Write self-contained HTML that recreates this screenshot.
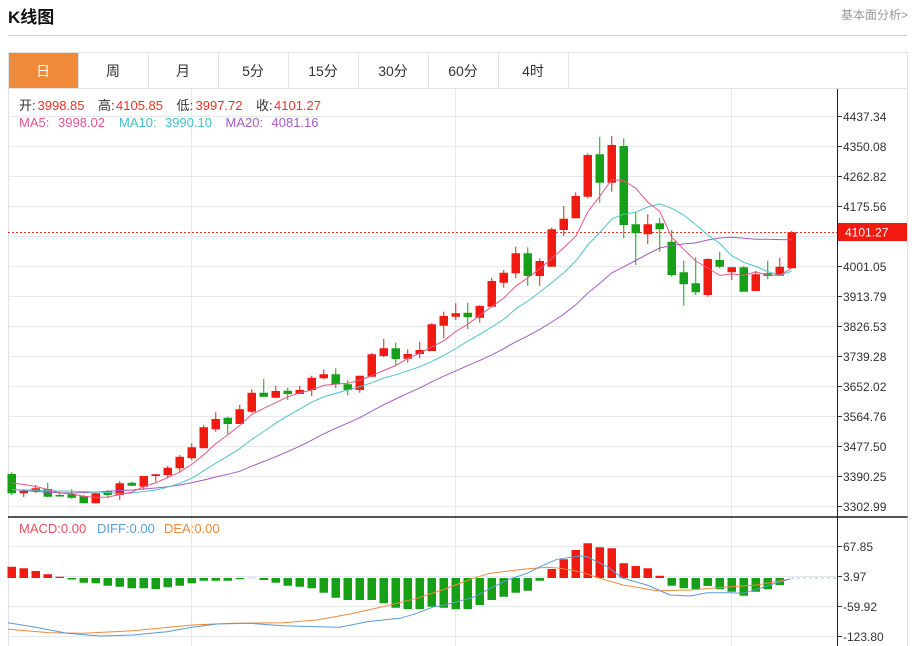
<!DOCTYPE html>
<html><head><meta charset="utf-8"><style>
html,body{margin:0;padding:0;background:#fff;width:912px;height:646px;overflow:hidden}
svg{display:block;font-family:"Liberation Sans","Noto Sans CJK SC",sans-serif}
</style></head><body>
<svg width="912" height="646" viewBox="0 0 912 646" xmlns="http://www.w3.org/2000/svg">
<rect width="912" height="646" fill="#fff"/>
<!-- header -->
<text x="8" y="23" font-size="17" font-weight="bold" fill="#111">K线图</text>
<text x="841" y="19" font-size="12" fill="#999">基本面分析&gt;</text>
<line x1="8" y1="35.5" x2="907" y2="35.5" stroke="#cfcfcf" stroke-width="1"/>
<!-- tabs -->
<rect x="8" y="52" width="70" height="36" fill="#f08a3b"/>
<g stroke="#e2e2e2" stroke-width="1" fill="none">
<line x1="8" y1="52.5" x2="907.5" y2="52.5"/>
<line x1="8" y1="88.5" x2="907.5" y2="88.5"/>
<line x1="8.5" y1="52" x2="8.5" y2="646"/>
<line x1="907.5" y1="52" x2="907.5" y2="646"/>
<line x1="78.5" y1="52" x2="78.5" y2="88"/>
<line x1="148.5" y1="52" x2="148.5" y2="88"/>
<line x1="218.5" y1="52" x2="218.5" y2="88"/>
<line x1="288.5" y1="52" x2="288.5" y2="88"/>
<line x1="358.5" y1="52" x2="358.5" y2="88"/>
<line x1="428.5" y1="52" x2="428.5" y2="88"/>
<line x1="498.5" y1="52" x2="498.5" y2="88"/>
<line x1="568.5" y1="52" x2="568.5" y2="88"/>
</g>
<g font-size="14" fill="#333" text-anchor="middle">
<text x="43" y="76" fill="#fff">日</text>
<text x="113" y="76">周</text>
<text x="183" y="76">月</text>
<text x="253" y="76">5分</text>
<text x="323" y="76">15分</text>
<text x="393" y="76">30分</text>
<text x="463" y="76">60分</text>
<text x="533" y="76">4时</text>
</g>
<!-- grid -->
<g stroke="#e6e8ec" stroke-width="1">
<line x1="8" y1="116.5" x2="838" y2="116.5"/>
<line x1="8" y1="146.5" x2="838" y2="146.5"/>
<line x1="8" y1="176.5" x2="838" y2="176.5"/>
<line x1="8" y1="206.5" x2="838" y2="206.5"/>
<line x1="8" y1="236.5" x2="838" y2="236.5"/>
<line x1="8" y1="266.5" x2="838" y2="266.5"/>
<line x1="8" y1="296.5" x2="838" y2="296.5"/>
<line x1="8" y1="326.5" x2="838" y2="326.5"/>
<line x1="8" y1="356.5" x2="838" y2="356.5"/>
<line x1="8" y1="386.5" x2="838" y2="386.5"/>
<line x1="8" y1="416.5" x2="838" y2="416.5"/>
<line x1="8" y1="446.5" x2="838" y2="446.5"/>
<line x1="8" y1="476.5" x2="838" y2="476.5"/>
<line x1="8" y1="506.5" x2="838" y2="506.5"/>
<line x1="8" y1="546.5" x2="838" y2="546.5"/>
<line x1="8" y1="576.5" x2="838" y2="576.5"/>
<line x1="8" y1="606.5" x2="838" y2="606.5"/>
<line x1="8" y1="636.5" x2="838" y2="636.5"/>
<line x1="191.5" y1="89" x2="191.5" y2="646"/>
<line x1="455.5" y1="89" x2="455.5" y2="646"/>
<line x1="731.5" y1="89" x2="731.5" y2="646"/>
</g>
<!-- info text -->
<g font-size="13">
<text x="19" y="110" fill="#333">开:</text><text x="37.5" y="110" fill="#e8332a">3998.85</text>
<text x="98" y="110" fill="#333">高:</text><text x="116" y="110" fill="#e8332a">4105.85</text>
<text x="176.5" y="110" fill="#333">低:</text><text x="195.5" y="110" fill="#e8332a">3997.72</text>
<text x="256" y="110" fill="#333">收:</text><text x="274" y="110" fill="#e8332a">4101.27</text>
<text x="19" y="127" fill="#e2578a">MA5:</text><text x="58" y="127" fill="#e2578a">3998.02</text>
<text x="119" y="127" fill="#3fc0c9">MA10:</text><text x="165" y="127" fill="#3fc0c9">3990.10</text>
<text x="225.5" y="127" fill="#a35cc2">MA20:</text><text x="271.5" y="127" fill="#a35cc2">4081.16</text>
</g>
<!-- price line -->
<line x1="8" y1="232.5" x2="838" y2="232.5" stroke="#e8332a" stroke-width="1" stroke-dasharray="2,2"/>
<!-- candles: wicks -->
<path fill="none" stroke="#f01a10" stroke-width="1" d="M23.75 489V497M35.75 485V493M95.75 491.7V503.3M119.75 481V500M143.75 476V490M155.75 474V481.7M167.75 466V478.3M179.75 455V471.7M191.75 443.3V460M203.75 425V448.3M215.75 412.3V431.7M239.75 405V424M251.75 389.3V412.7M275.75 385.7V398.3M299.75 385.7V394M311.75 375.7V396M323.75 369.3V379.3M359.75 375.7V392.7M371.75 353V376.7M383.75 339V357.3M407.75 349.3V362.7M419.75 341.7V358.3M431.75 323.3V351M443.75 311.7V338.3M455.75 303.3V320M479.75 305V322.7M491.75 277.7V306.7M503.75 270V287.7M515.75 246.7V278.3M539.75 258.3V285.7M551.75 227.7V266.7M563.75 206V236M575.75 192.3V218.3M587.75 153.3V198.3M611.75 136V191.7M647.75 214.3V244M707.75 258.3V296.7M731.75 267.3V280M755.75 271V291M779.75 257.7V275.7M791.75 231V268.3"/>
<path fill="none" stroke="#16a016" stroke-width="1" d="M11.75 472.3V495M47.75 482.7V497.3M59.75 491.7V496.7M71.75 489.3V498.7M83.75 495V503.3M107.75 490V498.3M131.75 481.7V486M227.75 416.7V434M263.75 379V396.7M287.75 387.7V400M335.75 368.3V388.3M347.75 380V395M395.75 342.7V365M467.75 302.7V329M527.75 247.3V285.7M599.75 136.7V202.7M623.75 138.3V238.3M635.75 211.7V265M659.75 217.7V251.7M671.75 230V276.7M683.75 261V305.7M695.75 257.3V295M719.75 251.7V268.3M743.75 266V291.7M767.75 260.7V279.3"/>
<!-- candles: bodies -->
<path fill="#f01a10" d="M19.5 491h8.5v2.3h-8.5zM31.5 488.3h8.5v3.4h-8.5zM91.5 493.3h8.5v10h-8.5zM115.5 483.3h8.5v11.7h-8.5zM139.5 476h8.5v10.7h-8.5zM151.5 474.3h8.5v1.7h-8.5zM163.5 467.7h8.5v7.3h-8.5zM175.5 456.7h8.5v11.6h-8.5zM187.5 447.3h8.5v11h-8.5zM199.5 427.3h8.5v21h-8.5zM211.5 419h8.5v10.3h-8.5zM235.5 409.3h8.5v14.7h-8.5zM247.5 392.7h8.5v19h-8.5zM271.5 391h8.5v6.7h-8.5zM295.5 390h8.5v4h-8.5zM307.5 377.7h8.5v12.3h-8.5zM319.5 374.3h8.5v4h-8.5zM355.5 375.7h8.5v14.3h-8.5zM367.5 354.3h8.5v22.4h-8.5zM379.5 348.3h8.5v7.7h-8.5zM403.5 354h8.5v4.7h-8.5zM415.5 350h8.5v4h-8.5zM427.5 324.3h8.5v26.7h-8.5zM439.5 316h8.5v9.7h-8.5zM451.5 313.3h8.5v3.4h-8.5zM475.5 306h8.5v11.7h-8.5zM487.5 281h8.5v25.7h-8.5zM499.5 272.7h8.5v10h-8.5zM511.5 253.3h8.5v20h-8.5zM535.5 261h8.5v15h-8.5zM547.5 229.3h8.5v37.4h-8.5zM559.5 218.7h8.5v11.3h-8.5zM571.5 196h8.5v22.3h-8.5zM583.5 155h8.5v41.7h-8.5zM607.5 145h8.5v37.7h-8.5zM643.5 224.3h8.5v10h-8.5zM703.5 259h8.5v36h-8.5zM727.5 267.3h8.5v5h-8.5zM751.5 274.3h8.5v16.7h-8.5zM775.5 266.7h8.5v9h-8.5zM787.5 232.3h8.5v36h-8.5z"/>
<path fill="#16a016" d="M7.5 474h8.5v19.3h-8.5zM43.5 489h8.5v7.7h-8.5zM55.5 495h8.5v1.5h-8.5zM67.5 494.3h8.5v3.4h-8.5zM79.5 496h8.5v7.3h-8.5zM103.5 491h8.5v4h-8.5zM127.5 482.7h8.5v3h-8.5zM223.5 417.7h8.5v6.3h-8.5zM259.5 392.7h8.5v4h-8.5zM283.5 390.7h8.5v3.3h-8.5zM331.5 374.3h8.5v10h-8.5zM343.5 384.3h8.5v5.7h-8.5zM391.5 348.3h8.5v10.7h-8.5zM463.5 312.7h8.5v4.6h-8.5zM523.5 253.3h8.5v22.7h-8.5zM595.5 154.3h8.5v28.4h-8.5zM619.5 146h8.5v79h-8.5zM631.5 224.3h8.5v9h-8.5zM655.5 223.3h8.5v6h-8.5zM667.5 241.7h8.5v33.3h-8.5zM679.5 272.3h8.5v12h-8.5zM691.5 283.3h8.5v9h-8.5zM715.5 260h8.5v6.7h-8.5zM739.5 267.3h8.5v24.4h-8.5zM763.5 273.3h8.5v2.7h-8.5z"/>
<!-- MA lines -->
<polyline fill="none" stroke="#a35cc2" stroke-width="1" points="11.75,489.5 23.75,490.5 35.75,491.5 47.75,492.3 59.75,492.8 71.75,493 83.75,492.6 95.75,492 107.75,491.3 119.75,490.6 131.75,490 143.75,489 155.75,488 167.75,486.7 179.75,485 191.75,482.7 203.75,480 215.75,477 227.75,474.3 239.75,471.3 251.75,466.2 263.75,461.5 275.75,456.7 287.75,451.5 299.75,446.2 311.75,440.2 323.75,433.8 335.75,428.3 347.75,423.1 359.75,417.7 371.75,411.1 383.75,404.7 395.75,399 407.75,393.3 419.75,387.9 431.75,381.8 443.75,376.2 455.75,370.9 467.75,365.6 479.75,360.4 491.75,354.9 503.75,348.7 515.75,341.8 527.75,335.9 539.75,329.4 551.75,322 563.75,314.2 575.75,304.8 587.75,293.1 599.75,283.4 611.75,272.9 623.75,266.8 635.75,260.5 647.75,254 659.75,248 671.75,245.5 683.75,243.9 695.75,242.9 707.75,240 719.75,238 731.75,237.3 743.75,238.3 755.75,239.3 767.75,239.3 779.75,239.6 791.75,239.7"/>
<polyline fill="none" stroke="#4cc4cc" stroke-width="1" points="11.75,489.5 23.75,490 35.75,490.3 47.75,490.7 59.75,491 71.75,491.3 83.75,491.6 95.75,492 107.75,492.5 119.75,493.8 131.75,493 143.75,491.5 155.75,490.1 167.75,487.2 179.75,483.3 191.75,478.3 203.75,470.7 215.75,463.2 227.75,456.1 239.75,448.7 251.75,439.4 263.75,431.5 275.75,423.2 287.75,415.8 299.75,409.1 311.75,402.2 323.75,396.9 335.75,393.4 347.75,390 359.75,386.6 371.75,382.8 383.75,378 395.75,374.8 407.75,370.8 419.75,366.8 431.75,361.4 443.75,355.6 455.75,348.5 467.75,341.2 479.75,334.3 491.75,326.9 503.75,319.4 515.75,308.8 527.75,301 539.75,292.1 551.75,282.6 563.75,272.9 575.75,261.1 587.75,244.9 599.75,232.6 611.75,219 623.75,214.2 635.75,212.2 647.75,207 659.75,203.9 671.75,208.4 683.75,215 695.75,224.6 707.75,235 719.75,243.4 731.75,255.7 743.75,262.3 755.75,266.4 767.75,271.6 779.75,275.3 791.75,271.1"/>
<polyline fill="none" stroke="#e4568a" stroke-width="1" points="11.75,483 23.75,484.5 35.75,486.5 47.75,489.5 59.75,493 71.75,493.9 83.75,496.4 95.75,497.4 107.75,497.1 119.75,494.5 131.75,492.1 143.75,486.7 155.75,482.9 167.75,477.4 179.75,472.1 191.75,464.4 203.75,454.7 215.75,443.6 227.75,434.9 239.75,425.4 251.75,414.5 263.75,408.3 275.75,402.7 287.75,396.7 299.75,392.9 311.75,389.9 323.75,385.4 335.75,384.1 347.75,383.3 359.75,380.4 371.75,375.7 383.75,370.5 395.75,365.5 407.75,358.3 419.75,353.1 431.75,347.1 443.75,340.7 455.75,331.5 467.75,324.2 479.75,315.4 491.75,306.7 503.75,298.1 515.75,286.1 527.75,277.8 539.75,268.8 551.75,258.5 563.75,247.7 575.75,236.2 587.75,212 599.75,196.3 611.75,179.5 623.75,180.7 635.75,188.2 647.75,202.1 659.75,211.4 671.75,237.4 683.75,249.2 695.75,261 707.75,268 719.75,275.5 731.75,273.9 743.75,275.4 755.75,271.8 767.75,275.2 779.75,275.2 791.75,268.2"/>
<!-- separator -->
<line x1="8" y1="517" x2="907.5" y2="517" stroke="#1a1a1a" stroke-width="1.5"/>
<!-- MACD text -->
<g font-size="13">
<text x="19" y="533" fill="#e4505a">MACD:0.00</text>
<text x="97" y="533" fill="#5a9fdc">DIFF:0.00</text>
<text x="164" y="533" fill="#f08a3b">DEA:0.00</text>
</g>
<!-- MACD histogram -->
<path fill="#f01a10" d="M7.5 566.7h8.5V578h-8.5zM19.5 568.3h8.5V578h-8.5zM31.5 571h8.5V578h-8.5zM43.5 574.3h8.5V578h-8.5zM55.5 576.7h8.5V578h-8.5zM547.5 569h8.5V578h-8.5zM559.5 559.3h8.5V578h-8.5zM571.5 550h8.5V578h-8.5zM583.5 543.3h8.5V578h-8.5zM595.5 547.3h8.5V578h-8.5zM607.5 548.3h8.5V578h-8.5zM619.5 563.3h8.5V578h-8.5zM631.5 566h8.5V578h-8.5zM643.5 568.3h8.5V578h-8.5zM655.5 575.7h8.5V578h-8.5z"/>
<path fill="#16a016" d="M67.5 578h8.5V579.5h-8.5zM79.5 578h8.5V582.7h-8.5zM91.5 578h8.5V583.3h-8.5zM103.5 578h8.5V585.7h-8.5zM115.5 578h8.5V586.7h-8.5zM127.5 578h8.5V588.3h-8.5zM139.5 578h8.5V588.3h-8.5zM151.5 578h8.5V589h-8.5zM163.5 578h8.5V587.3h-8.5zM175.5 578h8.5V585.7h-8.5zM187.5 578h8.5V583.3h-8.5zM199.5 578h8.5V580.7h-8.5zM211.5 578h8.5V580.7h-8.5zM223.5 578h8.5V580.7h-8.5zM235.5 578h8.5V579.3h-8.5zM259.5 578h8.5V580h-8.5zM271.5 578h8.5V582.7h-8.5zM283.5 578h8.5V585.7h-8.5zM295.5 578h8.5V586.7h-8.5zM307.5 578h8.5V588.3h-8.5zM319.5 578h8.5V592.7h-8.5zM331.5 578h8.5V597.7h-8.5zM343.5 578h8.5V600h-8.5zM355.5 578h8.5V600h-8.5zM367.5 578h8.5V600h-8.5zM379.5 578h8.5V603.3h-8.5zM391.5 578h8.5V607.7h-8.5zM403.5 578h8.5V609h-8.5zM415.5 578h8.5V609h-8.5zM427.5 578h8.5V606.7h-8.5zM439.5 578h8.5V607.7h-8.5zM451.5 578h8.5V609.3h-8.5zM463.5 578h8.5V609h-8.5zM475.5 578h8.5V605h-8.5zM487.5 578h8.5V600h-8.5zM499.5 578h8.5V596.7h-8.5zM511.5 578h8.5V592.7h-8.5zM523.5 578h8.5V590.7h-8.5zM535.5 578h8.5V580.7h-8.5zM667.5 578h8.5V585.7h-8.5zM679.5 578h8.5V588.3h-8.5zM691.5 578h8.5V589h-8.5zM703.5 578h8.5V586h-8.5zM715.5 578h8.5V589.3h-8.5zM727.5 578h8.5V591.7h-8.5zM739.5 578h8.5V595.7h-8.5zM751.5 578h8.5V591.7h-8.5zM763.5 578h8.5V589.3h-8.5zM775.5 578h8.5V585h-8.5z"/>
<line x1="247.5" y1="578" x2="256" y2="578" stroke="#c8d8e0" stroke-width="1"/>
<!-- DIFF / DEA -->
<polyline fill="none" stroke="#f08a3b" stroke-width="1" points="8,629.3 50,632.7 83,633.3 133,630.7 192,625 233,623.3 283,622.7 317,620 350,614 383,606.7 417,598.3 445,589 473,578.3 490,573.3 523,569.3 547,567.3 560,568.3 580,571.7 600,578.3 623,585 657,590.7 690,590 723,587.3 757,585 790,579"/>
<polyline fill="none" stroke="#5b9bd8" stroke-width="1" points="8,622.7 33,626.7 67,633.3 100,636 133,635 167,631.7 192,627.3 217,624 250,623.3 283,625.7 317,626.7 340,627.3 367,621.7 400,618.3 417,613.3 433,607 445,605 473,597.3 507,580 527,573.3 540,566.7 557,559.3 580,556 587,556.7 607,566.7 623,578.3 647,585 670,595 690,596 707,592.7 730,592.7 743,593.3 760,588.3 773,584 790,579"/>
<line x1="791" y1="578" x2="838" y2="578" stroke="#a8d6ee" stroke-width="1.2" stroke-dasharray="3,3"/>
<!-- axis -->
<line x1="837.5" y1="89" x2="837.5" y2="646" stroke="#222" stroke-width="1"/>
<g stroke="#333" stroke-width="1">
<line x1="838" y1="116.5" x2="842" y2="116.5"/>
<line x1="838" y1="146.5" x2="842" y2="146.5"/>
<line x1="838" y1="176.5" x2="842" y2="176.5"/>
<line x1="838" y1="206.5" x2="842" y2="206.5"/>
<line x1="838" y1="266.5" x2="842" y2="266.5"/>
<line x1="838" y1="296.5" x2="842" y2="296.5"/>
<line x1="838" y1="326.5" x2="842" y2="326.5"/>
<line x1="838" y1="356.5" x2="842" y2="356.5"/>
<line x1="838" y1="386.5" x2="842" y2="386.5"/>
<line x1="838" y1="416.5" x2="842" y2="416.5"/>
<line x1="838" y1="446.5" x2="842" y2="446.5"/>
<line x1="838" y1="476.5" x2="842" y2="476.5"/>
<line x1="838" y1="506.5" x2="842" y2="506.5"/>
<line x1="838" y1="546.5" x2="842" y2="546.5"/>
<line x1="838" y1="576.5" x2="842" y2="576.5"/>
<line x1="838" y1="606.5" x2="842" y2="606.5"/>
<line x1="838" y1="636.5" x2="842" y2="636.5"/>
</g>
<g font-size="12" fill="#333">
<text x="843" y="121">4437.34</text>
<text x="843" y="151">4350.08</text>
<text x="843" y="181">4262.82</text>
<text x="843" y="211">4175.56</text>
<text x="843" y="271">4001.05</text>
<text x="843" y="301">3913.79</text>
<text x="843" y="331">3826.53</text>
<text x="843" y="361">3739.28</text>
<text x="843" y="391">3652.02</text>
<text x="843" y="421">3564.76</text>
<text x="843" y="451">3477.50</text>
<text x="843" y="481">3390.25</text>
<text x="843" y="511">3302.99</text>
<text x="843" y="551">67.85</text>
<text x="843" y="581">3.97</text>
<text x="843" y="611">-59.92</text>
<text x="843" y="641">-123.80</text>
</g>
<rect x="838" y="223" width="69" height="18" fill="#f01a10"/>
<text x="845" y="236.5" font-size="12" fill="#fff">4101.27</text>
</svg>
</body></html>
